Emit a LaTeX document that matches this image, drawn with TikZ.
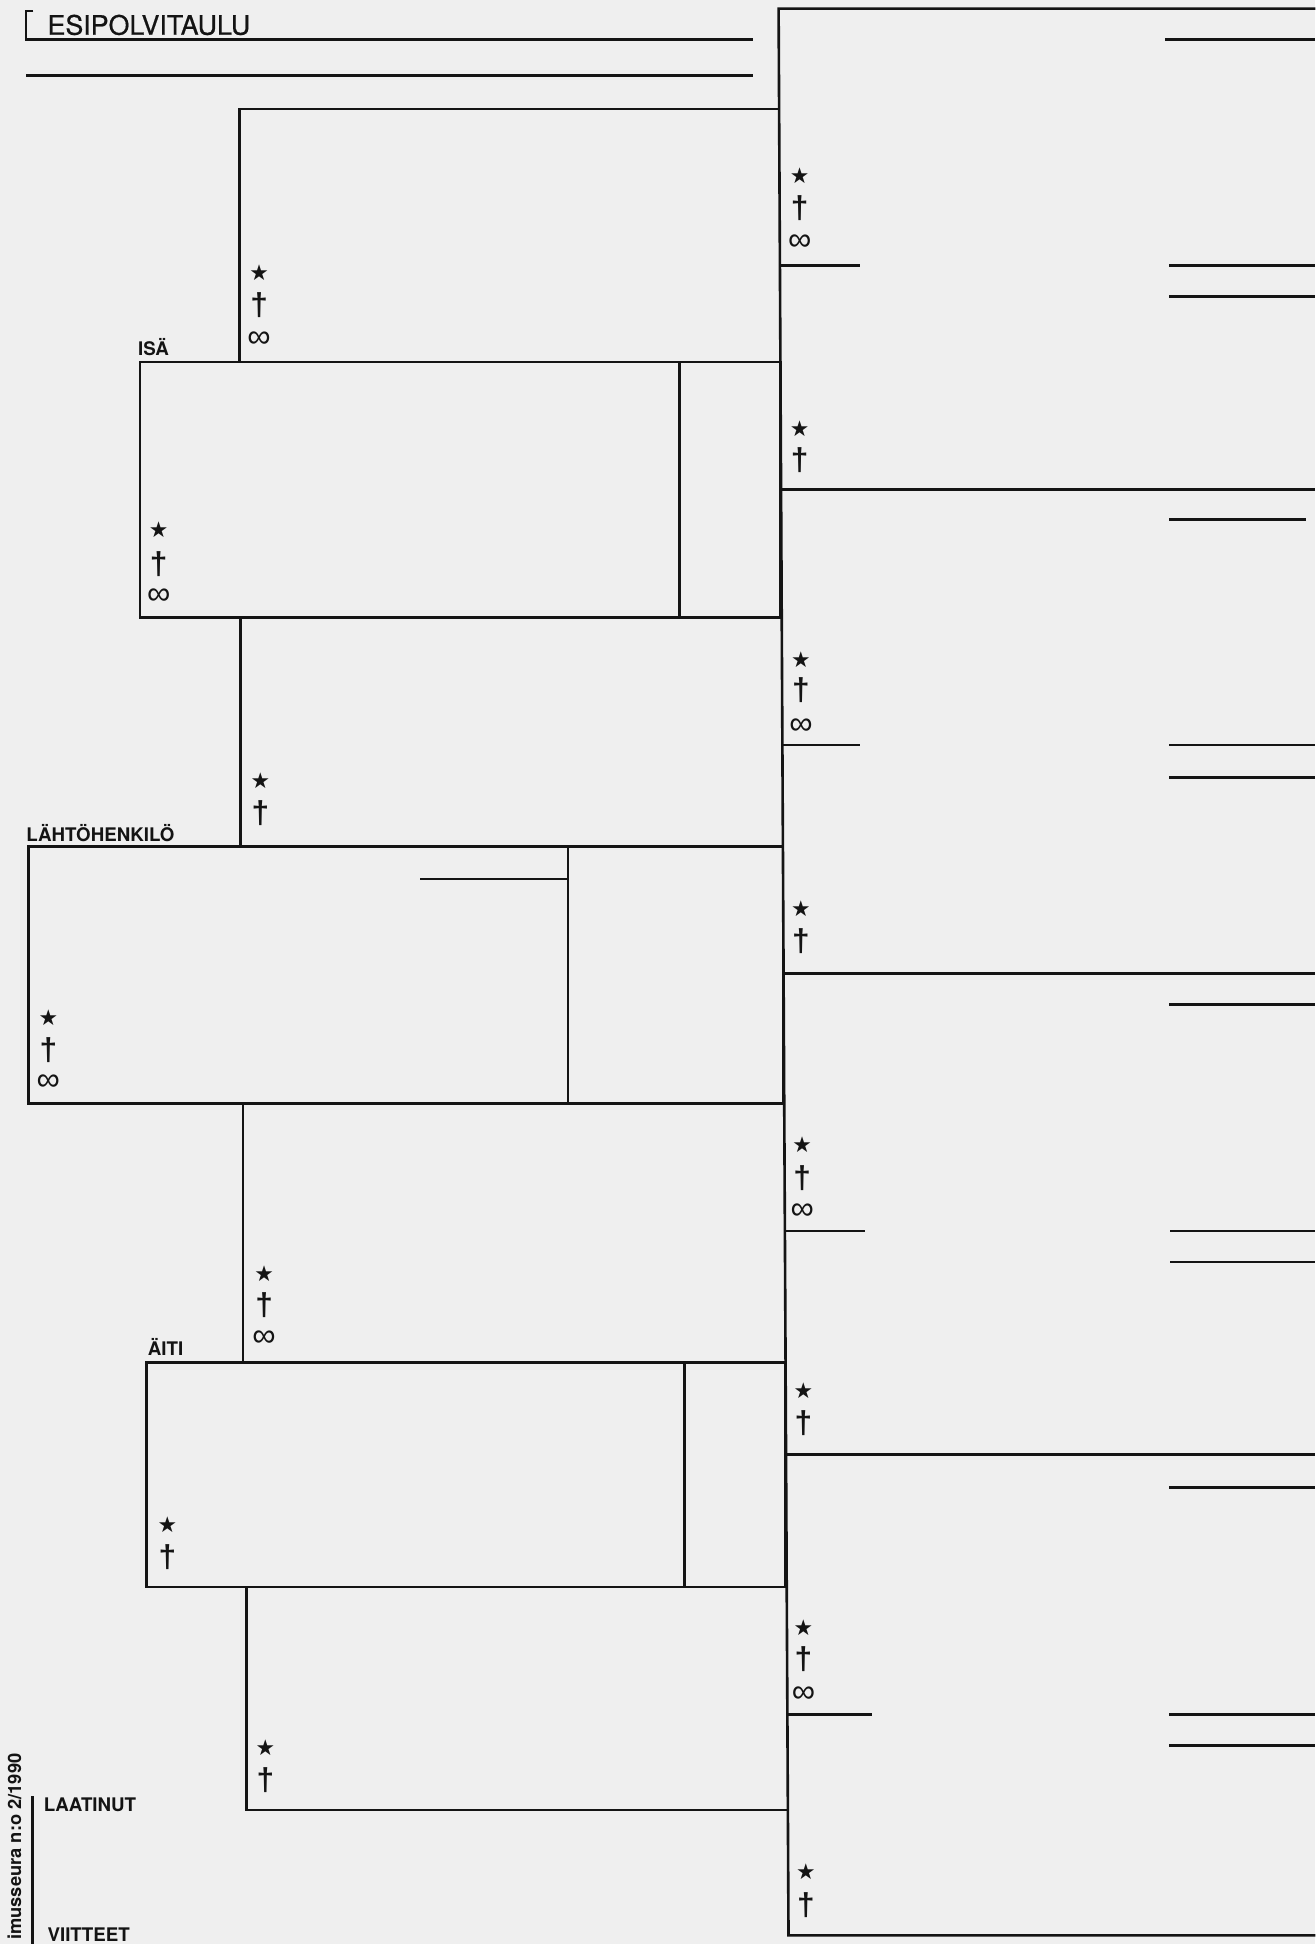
\documentclass[tikz,border=0pt]{standalone}
\usepackage{fontspec}
\setmainfont{TeX Gyre Heros}
\newfontfamily\heavy[FakeBold=0.6]{TeX Gyre Heros}
\newfontfamily\dejavu{DejaVu Sans}
\newfontfamily\liber{Liberation Sans}
\usepackage{xcolor}
\definecolor{paper}{RGB}{239,239,239}
\definecolor{ink}{RGB}{20,20,20}
\usetikzlibrary{positioning}

\tikzset{
  rule/.style={ink, line width=1.2pt},
  titletext/.style={font=\heavy\fontsize{12.3}{14}\selectfont, ink, inner sep=0pt},
  lbl/.style={font=\fontsize{8.6}{10}\selectfont\bfseries, ink, inner sep=0pt, anchor=base west},
  birth/.style={font=\dejavu\fontsize{10}{11}\selectfont, ink, inner sep=0pt},
  death/.style={font=\liber\bfseries\fontsize{14.5}{16}\selectfont, ink, inner sep=0pt},
  wed/.style={font=\liber\fontsize{15}{16}\selectfont, ink, inner sep=0pt},
}

\begin{document}
\begin{tikzpicture}[x=0.02cm, y=-0.02cm]
\useasboundingbox (0,0) rectangle (1061,1568);
\fill[paper] (0,0) rectangle (1061,1568);

% === Title ===
\draw[rule] (27,9) -- (21,9) -- (21,32) -- (607,32);
\node[titletext, anchor=base west] (title) at (38,28) {ESIPOLVITAULU};
\draw[rule] (21,61) -- (607,61);

% === Right column: great-grandparents ===
\draw[rule] (1061,7) -- (628,7) -- (636,1561) -- (1061,1561);
\draw[rule] (630,395) -- (1061,395);
\draw[rule] (632,785) -- (1061,785);
\draw[rule] (634,1173) -- (1061,1173);

\draw[rule] (629,214) -- (694,214);
\draw[rule] (631,601) -- (694,601);
\draw[rule] (633,993) -- (698,993);
\draw[rule] (635,1383) -- (703,1383);

\draw[rule] (940,32) -- (1061,32);
\draw[rule] (943,214) -- (1061,214);
\draw[rule] (943,239) -- (1061,239);
\draw[rule] (943,419) -- (1053,419);
\draw[rule] (943,601) -- (1061,601);
\draw[rule] (943,627) -- (1061,627);
\draw[rule] (943,810) -- (1061,810);
\draw[rule] (944,993) -- (1061,993);
\draw[rule] (944,1018) -- (1061,1018);
\draw[rule] (943,1200) -- (1061,1200);
\draw[rule] (943,1383) -- (1061,1383);
\draw[rule] (943,1408) -- (1061,1408);

\node[birth] (fff-b) at (645,142) {★};
\node[death] (fff-d) at (645,168) {†};
\node[wed]   (fff-w) at (645,196) {∞};

\node[birth] (ffm-b) at (645,346) {★};
\node[death] (ffm-d) at (645,371) {†};

\node[birth] (fmf-b) at (646,532) {★};
\node[death] (fmf-d) at (646,557) {†};
\node[wed]   (fmf-w) at (646,586) {∞};

\node[birth] (fmm-b) at (646,733) {★};
\node[death] (fmm-d) at (646,759) {†};

\node[birth] (mff-b) at (647,923) {★};
\node[death] (mff-d) at (647,950) {†};
\node[wed]   (mff-w) at (647,977) {∞};

\node[birth] (mfm-b) at (648,1122) {★};
\node[death] (mfm-d) at (648,1148) {†};

\node[birth] (mmf-b) at (648,1313) {★};
\node[death] (mmf-d) at (648,1338) {†};
\node[wed]   (mmf-w) at (648,1367) {∞};

\node[birth] (mmm-b) at (650,1510) {★};
\node[death] (mmm-d) at (650,1537) {†};

% === Grandparents ===
\draw[rule] (193,292) -- (193,88) -- (628.4,88);
\node[birth] (ff-b) at (209,220) {★};
\node[death] (ff-d) at (209,246) {†};
\node[wed]   (ff-w) at (209,274) {∞};

\draw[rule] (194,498) -- (194,683);
\node[birth] (fm-b) at (210,630) {★};
\node[death] (fm-d) at (210,656) {†};

\draw[rule] (196,890) -- (196,1099);
\node[birth] (mf-b) at (213,1027) {★};
\node[death] (mf-d) at (213,1053) {†};
\node[wed]   (mf-w) at (213,1080) {∞};

\draw[rule] (199,1280) -- (199,1460) -- (635.5,1460);
\node[birth] (mm-b) at (214,1410) {★};
\node[death] (mm-d) at (214,1436) {†};

% === Father ===
\draw[rule] (113,292) rectangle (629.5,498);
\draw[rule] (548,292) -- (548,498);
\node[lbl] (isa) at (111,287) {ISÄ};
\node[birth] (isa-b) at (128,427) {★};
\node[death] (isa-d) at (128,455) {†};
\node[wed]   (isa-w) at (128,481) {∞};

% === Subject ===
\draw[rule] (23,683) rectangle (631.5,890);
\draw[rule] (458,683) -- (458,890);
\draw[rule] (339,709) -- (458,709);
\node[lbl] (lahto) at (21,679) {LÄHTÖHENKILÖ};
\node[birth] (lahto-b) at (39,821) {★};
\node[death] (lahto-d) at (39,847) {†};
\node[wed]   (lahto-w) at (39,873) {∞};

% === Mother ===
\draw[rule] (118,1099) rectangle (633.6,1280);
\draw[rule] (552,1099) -- (552,1280);
\node[lbl] (aiti) at (119,1093) {ÄITI};
\node[birth] (aiti-b) at (135,1230) {★};
\node[death] (aiti-d) at (135,1256) {†};

% === Footer ===
\draw[rule] (26,1449) -- (26,1568);
\node[lbl] (laatinut) at (35,1461) {LAATINUT};
\node[lbl] (viitteet) at (38,1566) {VIITTEET};
\node[font=\fontsize{8.4}{9}\selectfont\bfseries, ink, inner sep=0pt, rotate=90, anchor=base east]
     (seura) at (17,1414) {imusseura n:o 2/1990};

\end{tikzpicture}
\end{document}
